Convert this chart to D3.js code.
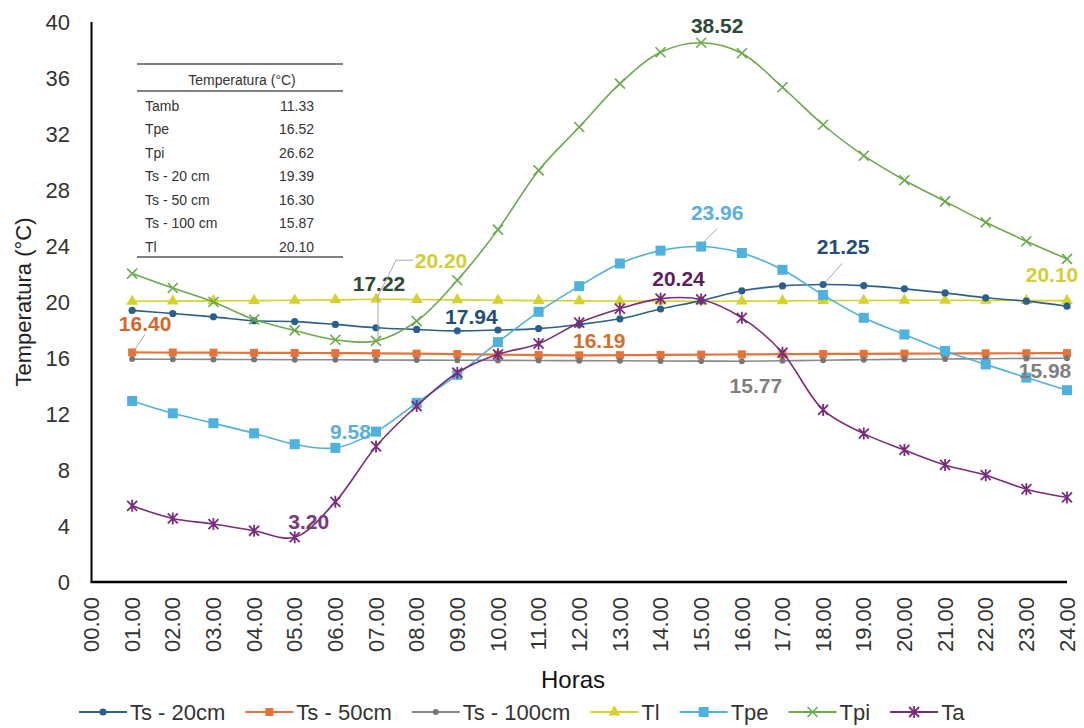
<!DOCTYPE html>
<html><head><meta charset="utf-8">
<script src="https://cdn.jsdelivr.net/npm/d3@7"></script>
<style>
body{margin:0;background:#fff;}
text{font-family:"Liberation Sans",Arial,sans-serif;}
</style></head>
<body><svg id="c" width="1084" height="728"></svg>
<script>
const hours = ["00.00","01.00","02.00","03.00","04.00","05.00","06.00","07.00","08.00","09.00","10.00","11.00","12.00","13.00","14.00","15.00","16.00","17.00","18.00","19.00","20.00","21.00","22.00","23.00","24.00"];
const dataHours = hours.slice(1);
const yTicks = [0,4,8,12,16,20,24,28,32,36,40];

const ts20  = [19.40,19.18,18.94,18.66,18.60,18.40,18.16,18.04,17.94,18.00,18.10,18.40,18.80,19.50,20.10,20.80,21.15,21.25,21.17,20.94,20.65,20.30,20.06,19.70];
const ts50  = [16.40,16.39,16.38,16.37,16.36,16.35,16.33,16.31,16.28,16.24,16.21,16.19,16.20,16.22,16.24,16.26,16.27,16.29,16.30,16.31,16.32,16.33,16.34,16.35];
const ts100 = [15.92,15.91,15.90,15.89,15.88,15.87,15.86,15.85,15.84,15.83,15.82,15.81,15.80,15.79,15.78,15.77,15.80,15.84,15.88,15.91,15.93,15.95,15.97,15.98];
const tl    = [20.05,20.06,20.08,20.10,20.12,20.15,20.20,20.18,20.15,20.12,20.10,20.08,20.07,20.06,20.05,20.06,20.08,20.10,20.11,20.12,20.12,20.11,20.10,20.10];
const tpe   = [12.93,12.05,11.34,10.62,9.84,9.58,10.74,12.80,14.80,17.13,19.30,21.13,22.75,23.67,23.96,23.50,22.30,20.50,18.87,17.68,16.50,15.54,14.60,13.70];
const tpi   = [22.03,21.00,20.00,18.75,17.97,17.30,17.22,18.63,21.55,25.17,29.40,32.50,35.60,37.84,38.52,37.77,35.34,32.66,30.45,28.70,27.19,25.69,24.34,23.08];
const ta    = [5.44,4.54,4.14,3.66,3.20,5.73,9.68,12.57,14.95,16.26,17.02,18.52,19.52,20.24,20.18,18.87,16.38,12.29,10.60,9.43,8.36,7.63,6.63,6.04];

const seriesNames = ["Ts - 20cm","Ts - 50cm","Ts - 100cm","Tl","Tpe","Tpi","Ta"];
const seriesValues = [ts20,ts50,ts100,tl,tpe,tpi,ta];
const seriesColors = ["#2b5f8c","#e4733a","#8a8a8a","#d6d12c","#4fb1de","#6aaa4a","#7a2c7c"];
const seriesMarkers = ["circle","square","dot","triangle","bigsquare","x","star"];

const tableHeader = "Temperatura (°C)";
const tableNames = ["Tamb","Tpe","Tpi","Ts - 20 cm","Ts - 50 cm","Ts - 100 cm","Tl"];
const tableValues = ["11.33","16.52","26.62","19.39","16.30","15.87","20.10"];

// annotations: series index, hour, text, colour
const annSeries = [5,4,0,6,0,1,2,2,3,5,1,4,6,3];
const annHour   = ["15.00","15.00","18.00","14.00","09.00","12.00","16.00","24.00","24.00","07.00","01.00","06.00","05.00","07.00"];
const annText   = ["38.52","23.96","21.25","20.24","17.94","16.19","15.77","15.98","20.10","17.22","16.40","9.58","3.20","20.20"];
const annColor  = ["#2c4a34","#5aaee0","#1f4e79","#5e1f5e","#1f4e79","#d2702c","#7f7f7f","#7f7f7f","#d6cd33","#2c4a34","#d9652b","#5aaee0","#7a3a7a","#d6cd33"];

const svg = d3.select("#c");
const m = {l:91.5, r:1067, t:22, b:582};
const x = d3.scalePoint().domain(hours).range([m.l, m.r]);
const y = d3.scaleLinear().domain([0,40]).range([m.b, m.t]);

svg.append("line").attr("x1",m.l).attr("x2",m.l).attr("y1",m.t).attr("y2",m.b).attr("stroke","#000").attr("stroke-width",2);
svg.append("line").attr("x1",m.l-1).attr("x2",m.r).attr("y1",m.b).attr("y2",m.b).attr("stroke","#000").attr("stroke-width",2.5);

svg.append("g").selectAll("text").data(yTicks).join("text")
  .attr("x",70).attr("y",d=>y(d)).attr("dy","0.35em").attr("text-anchor","end")
  .attr("font-size",22).attr("fill","#333").text(d=>d);
svg.append("g").selectAll("text").data(hours).join("text")
  .attr("transform",d=>`translate(${x(d)},597) rotate(-90)`).attr("dy","0.35em")
  .attr("text-anchor","end").attr("font-size",22).attr("fill","#333").text(d=>d);

svg.append("text").attr("transform","translate(23,302) rotate(-90)").attr("dy","0.35em")
  .attr("text-anchor","middle").attr("font-size",22).attr("fill","#222").text("Temperatura (°C)");
svg.append("text").attr("x",573).attr("y",680).attr("dy","0.35em").attr("text-anchor","middle")
  .attr("font-size",24).attr("fill","#111").text("Horas");

function marker(g, type, color){
  if(type==="circle") g.append("circle").attr("r",3.6).attr("fill",color);
  else if(type==="dot") g.append("circle").attr("r",3).attr("fill","#777");
  else if(type==="square") g.append("rect").attr("x",-4).attr("y",-4).attr("width",8).attr("height",8).attr("fill",color);
  else if(type==="bigsquare") g.append("rect").attr("x",-5).attr("y",-5).attr("width",10).attr("height",10).attr("fill",color);
  else if(type==="triangle") g.append("path").attr("d",d3.symbol(d3.symbolTriangle,60)()).attr("fill",color);
  else if(type==="x") g.append("path").attr("d","M-5,-5L5,5M-5,5L5,-5").attr("stroke",color).attr("stroke-width",1.6).attr("fill","none");
  else if(type==="star") g.append("path").attr("d","M-5,-5L5,5M-5,5L5,-5M0,-6L0,6").attr("stroke",color).attr("stroke-width",1.8).attr("fill","none");
}

const line = d3.line().x((d,i)=>x(dataHours[i])).y(d=>y(d)).curve(d3.curveCatmullRom.alpha(0.5));
const order = [1,2,3,0,4,5,6];
order.forEach(si=>{
  const vals = seriesValues[si];
  const g = svg.append("g");
  g.append("path").attr("d",line(vals)).attr("fill","none").attr("stroke",seriesColors[si]).attr("stroke-width",si===1?2.2:1.6);
  vals.forEach((v,i)=>{
    const mg = g.append("g").attr("transform",`translate(${x(dataHours[i])},${y(v)})`);
    marker(mg, seriesMarkers[si], seriesColors[si]);
  });
});

const annOff = [[16,-17],[16,-34],[20,-38],[18,-20],[14,-14],[20,-15],[14,24],[-22,12],[-15,-26],[3,-57],[13,-29],[15,-16],[14,-16],[65,-39]];
annText.forEach((t,k)=>{
  const px = x(annHour[k]), py = y(seriesValues[annSeries[k]][dataHours.indexOf(annHour[k])]);
  const tx = px+annOff[k][0], ty = py+annOff[k][1];
  if(k===1) svg.append("path").attr("d",`M${tx},${ty+16}L${px+1},${py-3}`).attr("stroke","#a6a6a6").attr("fill","none");
  if(k===2) svg.append("path").attr("d",`M${tx-1},${ty+17}L${px+2},${py-2}`).attr("stroke","#a6a6a6").attr("fill","none");
  if(k===9) svg.append("path").attr("d",`M${px+2},${ty+10}L${px+2},${py-2}`).attr("stroke","#a6a6a6").attr("fill","none");
  if(k===10) svg.append("path").attr("d",`M${tx},${ty+11}L${px+2},${py-2}`).attr("stroke","#a6a6a6").attr("fill","none");
  if(k===13) svg.append("path").attr("d",`M${tx-28},${ty}L${tx-45},${ty}L${px+2},${py-3}`).attr("stroke","#a6a6a6").attr("fill","none");
  svg.append("text").attr("x",tx).attr("y",ty).attr("dy","0.35em").attr("text-anchor","middle")
    .attr("font-size",21).attr("font-weight","bold").attr("fill",annColor[k]).text(t);
});

const tg = svg.append("g");
[64,91,257].forEach(ly=>tg.append("line").attr("x1",137).attr("x2",343).attr("y1",ly).attr("y2",ly).attr("stroke","#555").attr("stroke-width",1.5));
tg.append("text").attr("x",242).attr("y",80).attr("dy","0.35em").attr("text-anchor","middle").attr("font-size",14).attr("fill","#333").text(tableHeader);
tableNames.forEach((n,i)=>{
  const ry = 106 + i*23.5;
  tg.append("text").attr("x",145).attr("y",ry).attr("dy","0.35em").attr("font-size",14).attr("fill","#333").text(n);
  tg.append("text").attr("x",314).attr("y",ry).attr("dy","0.35em").attr("text-anchor","end").attr("font-size",14).attr("fill","#333").text(tableValues[i]);
});

let lx = 79;
const ly = 712;
seriesNames.forEach((n,i)=>{
  const g = svg.append("g");
  g.append("line").attr("x1",lx).attr("x2",lx+48).attr("y1",ly).attr("y2",ly).attr("stroke",seriesColors[i]).attr("stroke-width",2);
  const mg = g.append("g").attr("transform",`translate(${lx+24},${ly})`);
  marker(mg, seriesMarkers[i], seriesColors[i]);
  const t = g.append("text").attr("x",lx+51).attr("y",ly).attr("dy","0.35em").attr("font-size",22).attr("fill","#333").text(n);
  lx += 51 + t.node().getComputedTextLength() + 20;
});
</script></body></html>
